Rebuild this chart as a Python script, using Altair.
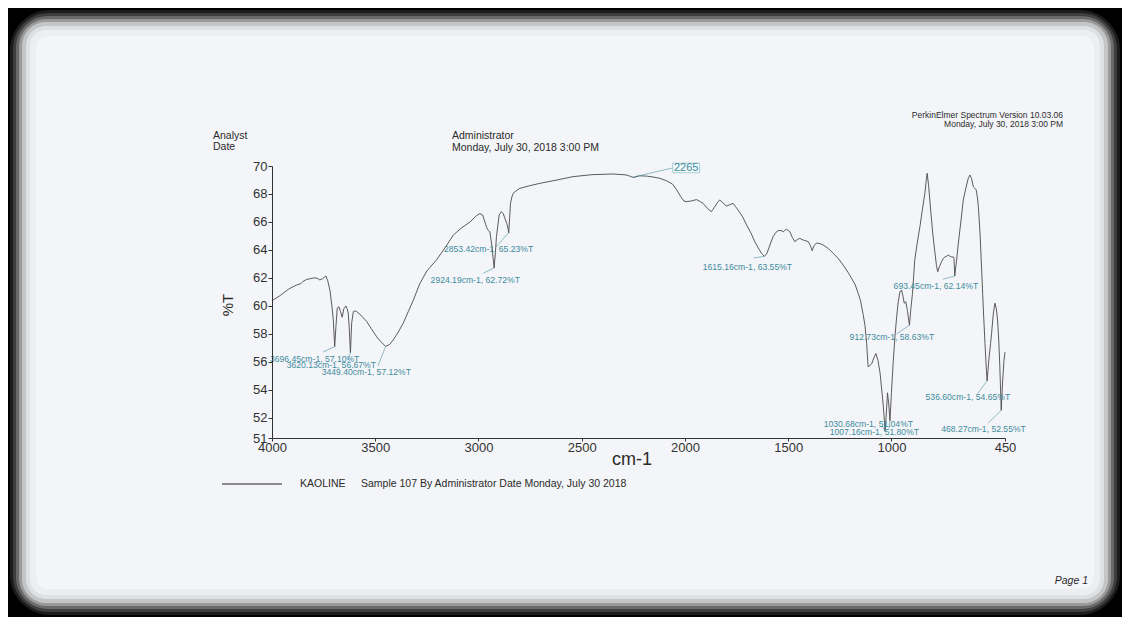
import altair as alt
import pandas as pd

# ---------------- data ----------------
wavenumber = [
    4000, 3960, 3920, 3898, 3880, 3860, 3850, 3832, 3815, 3800, 3784, 3768, 3755, 3739,
    3730, 3719, 3710, 3703, 3696.45, 3690, 3684, 3676, 3668, 3660, 3652, 3642, 3636, 3631,
    3626, 3620.13, 3614, 3606, 3598, 3590, 3570, 3542, 3520, 3493, 3470, 3449.40, 3430,
    3413, 3390, 3365, 3340, 3316, 3284, 3250, 3203, 3160, 3122, 3080, 3041, 3010, 2993,
    2980, 2969, 2960, 2953, 2945, 2935, 2924.19, 2918, 2913, 2900, 2889, 2880, 2873, 2863,
    2857, 2853.42, 2849, 2845, 2838, 2832, 2815, 2800, 2750, 2703, 2620, 2542, 2450, 2348,
    2300, 2280, 2250, 2220, 2186, 2150, 2122, 2090, 2060, 2040, 2020, 2005, 1993, 1970,
    1944, 1925, 1912, 1890, 1872, 1855, 1840, 1831, 1815, 1799, 1780, 1767, 1755, 1743,
    1720, 1702, 1680, 1662, 1645, 1629, 1615.16, 1605, 1597, 1585, 1573, 1560, 1549, 1535,
    1524, 1515, 1508, 1500, 1492, 1480, 1468, 1455, 1444, 1425, 1403, 1392, 1384, 1375,
    1363, 1345, 1331, 1305, 1282, 1258, 1234, 1210, 1193, 1175, 1161, 1150, 1137, 1128,
    1120, 1113, 1104, 1096, 1085, 1075, 1065, 1055, 1047, 1039, 1030.68, 1024, 1019, 1013,
    1007.16, 1000, 991, 983, 975, 967, 959, 951, 944, 938, 930, 922, 912.73, 906, 898, 887,
    875, 862, 850, 838, 832, 827, 820, 810, 800, 789, 782, 776, 768, 757, 749, 741, 733,
    725, 716, 708, 700, 697, 693.45, 685, 676, 664, 652, 640, 628, 620, 612, 603, 596, 590,
    584, 579, 571, 563, 555, 547, 540, 536.60, 528, 520, 515, 507, 499, 492, 486, 480, 475,
    468.27, 462, 455, 450,
]
transmittance = [
    60.38, 60.75, 61.20, 61.38, 61.50, 61.60, 61.75, 61.90, 61.95, 62.00, 62.00, 61.86, 61.95, 62.14,
    61.80, 61.10, 60.00, 59.00, 57.10, 58.60, 59.85, 59.95, 59.60, 59.20, 59.80, 60.00, 59.80, 59.50,
    58.50, 56.67, 58.80, 59.60, 59.65, 59.60, 59.35, 58.90, 58.40, 57.80, 57.40, 57.12, 57.25,
    57.57, 58.10, 58.76, 59.60, 60.40, 61.60, 62.50, 63.30, 64.20, 65.07, 65.60, 66.00, 66.45, 66.60,
    66.50, 66.00, 65.60, 65.40, 65.30, 64.30, 62.72, 63.80, 64.95, 66.50, 66.74, 66.60, 66.30, 65.90,
    65.55, 65.23, 66.30, 67.33, 67.80, 68.05, 68.25, 68.40, 68.60, 68.76, 69.00, 69.24, 69.38, 69.43,
    69.38, 69.35, 69.18, 69.30, 69.28, 69.20, 69.12, 68.95, 68.70, 68.30, 67.80, 67.50, 67.45, 67.50,
    67.60, 67.45, 67.33, 66.95, 66.74, 67.10, 67.45, 67.57, 67.35, 67.14, 67.25, 67.33, 67.10, 66.86,
    66.35, 65.80, 65.20, 64.60, 64.15, 63.76, 63.55, 63.70, 64.00, 64.50, 64.95, 65.25, 65.38, 65.40,
    65.30, 65.42, 65.48, 65.40, 65.30, 64.90, 64.60, 64.75, 64.83, 64.70, 64.60, 64.30, 63.95, 64.30,
    64.50, 64.45, 64.36, 64.10, 63.76, 63.40, 62.93, 62.40, 61.98, 61.50, 60.90, 60.40, 59.40, 58.60,
    57.33, 55.66, 55.75, 55.86, 56.30, 56.60, 56.10, 55.20, 54.00, 52.80, 51.04, 52.50, 53.80, 53.00,
    51.80, 53.80, 56.10, 57.80, 59.20, 60.30, 61.00, 61.14, 60.70, 60.20, 60.30, 59.60, 58.63, 59.80, 60.90, 63.30,
    64.50, 65.67, 66.90, 68.05, 68.90, 69.48, 68.60, 66.86, 65.20, 63.76, 62.90, 62.45, 62.80, 63.17, 63.40, 63.50, 63.55,
    63.64, 63.55, 63.50, 63.50, 63.40, 62.14, 63.20, 64.48, 66.00, 67.57, 68.40, 69.12, 69.36, 69.10, 68.50, 68.40, 68.33,
    67.80, 67.10, 65.20, 62.57, 59.80, 57.33, 55.40, 54.65, 56.20, 57.30, 58.05, 59.40, 60.20, 59.80, 59.00, 57.50, 55.66,
    52.55, 54.50, 56.10, 56.70,
]

# peak annotations: peak position, label anchor (left-middle), leader start
peak_wn = [3696.45, 3620.13, 3449.40, 2853.42, 2924.19, 1615.16, 912.73, 693.45, 536.60, 1030.68, 1007.16, 468.27]
peak_t = [57.10, 56.67, 57.12, 65.23, 62.72, 63.55, 58.63, 62.14, 54.65, 51.04, 51.80, 52.55]
label_wn = [4009.7, 3928.9, 3759.4, 3167.5, 3231.9, 1914.0, 1202.5, 989.5, 834.6, 1328.0, 1299.0, 758.7]
label_t = [56.21, 55.79, 55.31, 64.07, 61.86, 62.81, 57.79, 61.43, 53.52, 51.57, 50.98, 51.21]
lead_wn = [3753, 3632, 3487, 2916.5, 2977, 1667, 975, 751, 582, 1045, 1012, 533]
lead_t = [56.71, 56.14, 55.71, 64.21, 62.34, 63.43, 58.00, 61.91, 53.76, 51.45, 51.25, 51.62]

# "2265" marker
marker_text = ["2265"]
marker_wn = [2253]
marker_t = [69.20]
marker_box_wn = [2059, 1929]
marker_box_t = [70.20, 69.52]

x_ticks = [4000, 3500, 3000, 2500, 2000, 1500, 1000, 450]
y_ticks = [50.57, 52, 54, 56, 58, 60, 62, 64, 66, 68, 70]

# ---------------- layout ----------------
W, H = 733, 272
PADL, PADT = 264, 158
SVG_W, SVG_H = 1114, 609
FONT = "Liberation Sans"
TEAL = "#3d8c9e"
INK = "#333333"

spec = pd.DataFrame({"wn": wavenumber, "t": transmittance})
ann = pd.DataFrame({
    "pwn": peak_wn, "pt": peak_t, "lwn": label_wn, "lt": label_t,
    "swn": lead_wn, "st": lead_t,
})
ann["label"] = [f"{w:.2f}cm-1, {t:.2f}%T" for w, t in zip(peak_wn, peak_t)]
mk = pd.DataFrame({"wn": marker_wn, "t": marker_t, "text": marker_text,
                   "bx": [marker_box_wn[0]], "bx2": [marker_box_wn[1]],
                   "by": [marker_box_t[0]], "by2": [marker_box_t[1]]})
mk["mid"] = (mk["bx"] + mk["bx2"]) / 2
mk["mt"] = (mk["by"] + mk["by2"]) / 2
one = pd.DataFrame({"k": [0]})

xscale = alt.Scale(domain=[4000, 450], nice=False, zero=False)
yscale = alt.Scale(domain=[50.57, 70], nice=False, zero=False)
xaxis = alt.Axis(values=x_ticks, format="d", title=None, grid=False, labelFont=FONT,
                 labelFontSize=13, labelColor=INK, tickColor=INK, domainColor=INK,
                 tickSize=3, labelPadding=0, labelFlush=False, zindex=1)
yaxis = alt.Axis(values=y_ticks, title=None, grid=False, labelFont=FONT, labelFontSize=13,
                 labelColor=INK, tickColor=INK, domainColor=INK, tickSize=4, labelPadding=1,
                 zindex=1,
                 labelExpr="datum.value < 51 ? '51' : format(datum.value, 'd')")


def X(f):
    return alt.X(f, type="quantitative", scale=xscale, axis=xaxis)


def Y(f):
    return alt.Y(f, type="quantitative", scale=yscale, axis=yaxis)


# paper with dark vignette
paper = []
shades = [("#1c1c1c", 2, 40), ("#3e3e3e", 5, 36), ("#6a6a6a", 8, 32), ("#9a9a9a", 11, 28),
          ("#c4c5c7", 14, 24), ("#dfe0e3", 18, 20), ("#eceef1", 22, 16), ("#f4f5f8", 28, 12)]
for col, ins, rad in shades:
    paper.append(
        alt.Chart(one).mark_rect(color=col, cornerRadius=rad).encode(
            x=alt.value(-PADL + ins), x2=alt.value(SVG_W - PADL - ins),
            y=alt.value(-PADT + ins), y2=alt.value(SVG_H - PADT - ins))
    )

line = alt.Chart(spec).mark_line(color="#4a4a4a", strokeWidth=0.9, clip=False).encode(
    x=X("wn"), y=Y("t"), order=alt.Order("wn:Q", sort="descending"))

leaders = alt.Chart(ann).mark_rule(color=TEAL, strokeWidth=0.7, opacity=0.8).encode(
    x=X("swn"), x2="pwn", y=Y("st"), y2="pt")

labels = alt.Chart(ann).mark_text(align="left", baseline="middle", font=FONT, fontSize=8.6,
                                  color=TEAL).encode(x=X("lwn"), y=Y("lt"), text="label")

mk_rule = alt.Chart(mk).mark_rule(color=TEAL, strokeWidth=0.7, opacity=0.8).encode(
    x=X("wn"), x2="bx", y=Y("t"), y2="mt")
mk_box = alt.Chart(mk).mark_rect(fill="#f4f8f9", stroke="#8fc3cc", strokeWidth=0.8).encode(
    x=X("bx"), x2="bx2", y=Y("by"), y2="by2")
mk_text = alt.Chart(mk).mark_text(align="center", baseline="middle", font=FONT, fontSize=11,
                                  color=TEAL).encode(x=X("mid"), y=Y("mt"), text="text")

# page texts (layout positions in pixels relative to the plot origin)
page_texts = [
    ("Analyst", -59, -30, "left", 10.5, "normal"),
    ("Date", -59, -19, "left", 10.5, "normal"),
    ("Administrator", 180, -30, "left", 10.5, "normal"),
    ("Monday, July 30, 2018 3:00 PM", 180, -18, "left", 10.5, "normal"),
    ("PerkinElmer Spectrum Version 10.03.06", 791, -51, "right", 8.5, "normal"),
    ("Monday, July 30, 2018 3:00 PM", 791, -42, "right", 8.5, "normal"),
    ("cm-1", 360, 294, "center", 18, "normal"),
    ("KAOLINE", 28, 318, "left", 10.5, "normal"),
    ("Sample 107 By Administrator Date Monday, July 30 2018", 89, 318, "left", 10.5, "normal"),
    ("Page 1", 816, 415, "right", 10.5, "italic"),
]
texts = []
for txt, px, py, al, fs, st in page_texts:
    texts.append(
        alt.Chart(one).mark_text(text=txt, align=al, baseline="middle", font=FONT, fontSize=fs,
                                 fontStyle=st, color="#2b2b2b").encode(
            x=alt.value(px), y=alt.value(py))
    )
texts.append(
    alt.Chart(one).mark_text(text="%T", align="center", baseline="middle", font=FONT, fontSize=15,
                             angle=270, color="#2b2b2b").encode(x=alt.value(-44), y=alt.value(139))
)
legend_line = alt.Chart(one).mark_rule(color="#222222", strokeWidth=1.2).encode(
    x=alt.value(-50), x2=alt.value(10), y=alt.value(318))

chart = alt.layer(
    *paper, line, leaders, labels, mk_rule, mk_box, mk_text, *texts, legend_line
).properties(
    width=W, height=H,
    padding={"left": PADL, "top": PADT, "right": SVG_W - PADL - W, "bottom": SVG_H - PADT - H},
    autosize=alt.AutoSizeParams(type="none"),
    background="#000000",
).configure_view(stroke=None)

chart.save("out.html", embed_options={"renderer": "svg", "actions": False})
